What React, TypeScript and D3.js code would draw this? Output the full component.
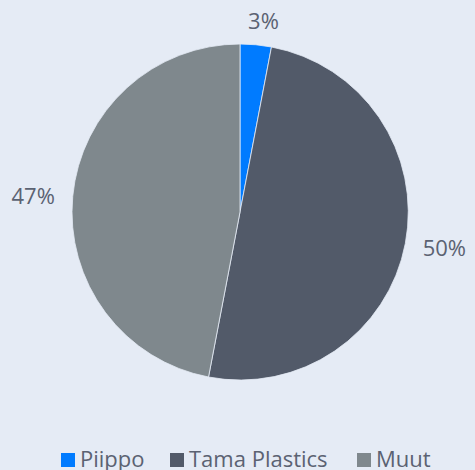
import React, { useEffect, useRef } from "react";
import * as d3 from "d3";

const categories = ["Piippo", "Tama Plastics", "Muut"];
const shares = [3, 50, 47];
const colors = ["#007bff", "#525a69", "#7f888d"];

export default function App() {
  const ref = useRef<SVGSVGElement>(null);

  useEffect(() => {
    if (!ref.current) return;
    const width = 475;
    const height = 470;
    const cx = 240;
    const cy = 212;
    const radius = 168;

    const svg = d3.select(ref.current);
    svg.selectAll("*").remove();

    svg.append("rect").attr("width", width).attr("height", height).attr("fill", "#e5ebf5");

    const pie = d3.pie<number>().sort(null).value((d) => d);
    const arcs = pie(shares);
    const arc = d3.arc<d3.PieArcDatum<number>>().innerRadius(0).outerRadius(radius);

    const g = svg.append("g").attr("transform", `translate(${cx},${cy})`);

    g.selectAll("path")
      .data(arcs)
      .enter()
      .append("path")
      .attr("d", arc)
      .attr("fill", (d, i) => colors[i])
      .attr("stroke", "#e5ebf5")
      .attr("stroke-width", 0.8);

    // labels outside the pie
    const labelR = 186;
    g.selectAll("text.lbl")
      .data(arcs)
      .enter()
      .append("text")
      .attr("class", "lbl")
      .each(function (d) {
        const a = (d.startAngle + d.endAngle) / 2;
        const s = Math.sin(a);
        const x = s * labelR;
        const y = -Math.cos(a) * labelR;
        const anchor = Math.abs(s) < 0.3 ? "middle" : s > 0 ? "start" : "end";
        d3.select(this)
          .attr("x", anchor === "middle" ? x + 6 : x)
          .attr("y", anchor === "middle" ? y - 7 : y)
          .attr("text-anchor", anchor)
          .attr("dominant-baseline", "central");
      })
      .style("font-family", "'Open Sans', sans-serif")
      .style("font-size", "22px")
      .style("fill", "#5b6272")
      .text((d) => `${d.data}%`);

    // legend
    const legendX = [61, 170, 357];
    const legend = svg
      .append("g")
      .selectAll("g")
      .data(categories)
      .enter()
      .append("g")
      .attr("transform", (d, i) => `translate(${legendX[i]},453)`);

    legend
      .append("rect")
      .attr("width", 14)
      .attr("height", 14)
      .attr("fill", (d, i) => colors[i]);

    legend
      .append("text")
      .attr("x", 19)
      .attr("y", 13.5)
      .style("font-family", "'Open Sans', sans-serif")
      .style("font-size", "22px")
      .style("fill", "#5b6272")
      .text((d) => d);
  }, []);

  return (
    <svg
      ref={ref}
      width={475}
      height={470}
      style={{ position: "absolute", left: 0, top: 0, display: "block" }}
    />
  );
}
